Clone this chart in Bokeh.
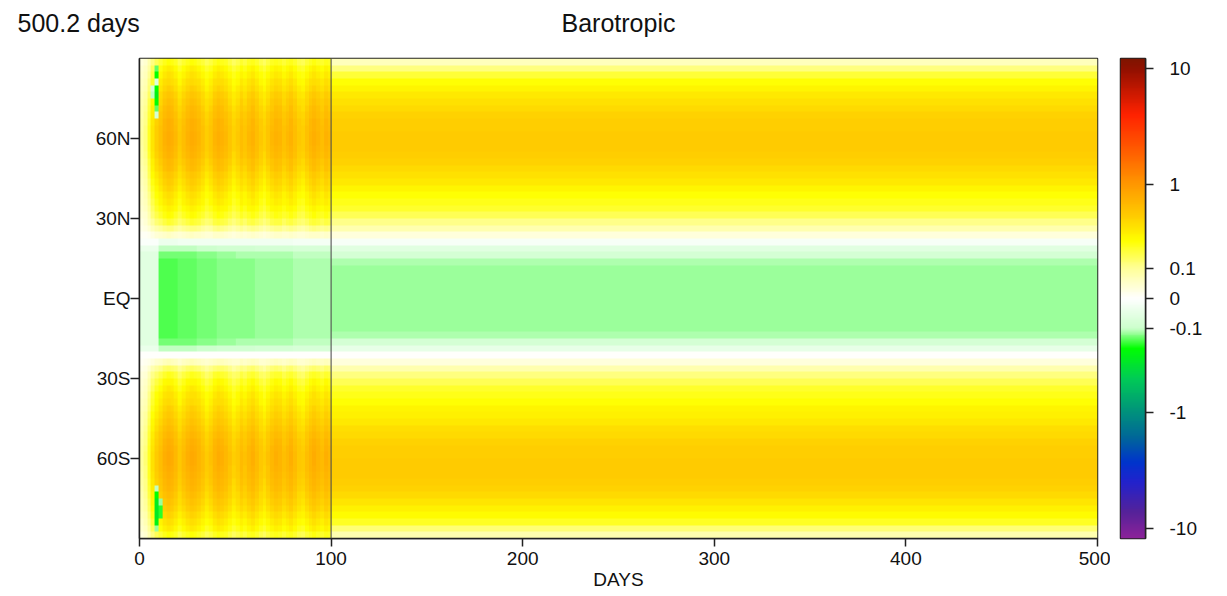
import numpy as np
from bokeh.plotting import figure
from bokeh.layouts import row, column
from bokeh.models import LinearColorMapper, FixedTicker, Span
from bokeh.core.properties import value
from bokeh.embed import file_html
from bokeh.resources import INLINE

# ---------------- data ----------------
title_text = "Barotropic"
time_text = "500.2 days"
x_label = "DAYS"
x_ticks = [0, 100, 200, 300, 400, 500]
lat_ticks = [-60, -30, 0, 30, 60]
lat_tick_labels = ["60S", "30S", "EQ", "30N", "60N"]
cbar_tick_values = [-10, -1, -0.1, 0, 0.1, 1, 10]
cbar_tick_labels = ["-10", "-1", "-0.1", "0", "0.1", "1", "10"]
spinup_end_day = 100
days_end = 500

# latitude cells of 2.5 degrees, south to north
lats = [-88.75 + 2.5 * k for k in range(72)]

# early (spin-up) period, days 0-100: mean latitude profile and 2-day streak factors
early_profile = [0.20, 0.27, 0.32, 0.37, 0.42, 0.46, 0.50, 0.54, 0.57, 0.60,
                 0.62, 0.63, 0.63, 0.61, 0.58, 0.55, 0.50, 0.46, 0.42, 0.38,
                 0.34, 0.31, 0.27, 0.23, 0.18, 0.12, 0.05, 0.00, -0.08, -0.11,
                 -0.12, -0.12, -0.12, -0.12, -0.12, -0.12,
                 -0.12, -0.12, -0.12, -0.12, -0.12, -0.12, -0.11, -0.08, -0.02, 0.04,
                 0.10, 0.16, 0.21, 0.25, 0.29, 0.32, 0.36, 0.40, 0.44, 0.49,
                 0.53, 0.57, 0.60, 0.61, 0.61, 0.60, 0.58, 0.55, 0.51, 0.47,
                 0.43, 0.38, 0.34, 0.30, 0.26, 0.20]
early_days = list(range(0, 100, 2))
streak = [0.15, 0.2, 0.35, 0.6, 0.8, 0.95, 1.15, 1.25, 1.2, 1.05,
          0.85, 1.0, 1.15, 1.25, 1.2, 1.1, 0.95, 0.8, 0.9, 1.1,
          1.2, 1.15, 1.05, 0.9, 0.75, 0.85, 1.0, 0.9, 1.05, 1.15,
          1.0, 0.85, 0.75, 0.9, 1.05, 1.15, 1.1, 0.95, 1.05, 1.15,
          1.0, 0.85, 0.8, 0.95, 1.1, 1.2, 1.1, 1.0, 1.15, 1.05]
green_fade = [0.45, 1.3, 1.25, 1.2, 1.1, 1.05, 1.0, 1.0, 0.95, 0.95]  # per 10 days
# green patches near the poles around day 6-10
blob_day = [8, 8, 8, 8, 8, 8, 8, 8, 6, 6,
            8, 8, 8, 8, 8, 8, 8, 10, 10, 10]
blob_lat = [86.25, 83.75, 81.25, 78.75, 76.25, 73.75, 71.25, 68.75, 78.75, 76.25,
            -71.25, -73.75, -76.25, -78.75, -81.25, -83.75, -86.25, -76.25, -78.75, -81.25]
blob_val = [-0.15, -0.2, -0.06, -0.2, -0.25, -0.22, -0.15, -0.08, -0.08, -0.1,
            -0.1, -0.2, -0.28, -0.3, -0.3, -0.25, -0.12, -0.12, -0.18, -0.18]

# steady period (day 100-500) latitude profile
steady_profile = [0.07, 0.13, 0.21, 0.27, 0.32, 0.37, 0.41, 0.45, 0.48, 0.50,
                  0.50, 0.50, 0.49, 0.47, 0.45, 0.42, 0.39, 0.35, 0.32, 0.29,
                  0.26, 0.23, 0.20, 0.16, 0.12, 0.07, 0.03, 0.00, -0.04, -0.08,
                  -0.11, -0.12, -0.12, -0.12, -0.12, -0.12,
                  -0.12, -0.12, -0.12, -0.12, -0.12, -0.11, -0.08, -0.05, -0.01, 0.03,
                  0.07, 0.11, 0.16, 0.20, 0.23, 0.26, 0.30, 0.34, 0.38, 0.42,
                  0.45, 0.48, 0.50, 0.50, 0.50, 0.49, 0.48, 0.45, 0.42, 0.38,
                  0.34, 0.30, 0.25, 0.19, 0.12, 0.06]

# ---------------- colour scale ----------------
SCALE_A = 0.13
SCALE_C = 52.8
U_MAX = 240.0


def to_u(v):
    v = np.asarray(v, dtype=float)
    return SCALE_C * np.sign(v) * np.log1p(np.abs(v) / SCALE_A)


stops_u = [-240, -215, -185, -165, -140, -110, -80, -50, -30, 0, 30, 58, 83, 114, 143, 185, 229, 240]
stops_c = ["#8a2299", "#552299", "#2222cc", "#0033cc", "#006699", "#009977", "#00cc55", "#00ff00",
           "#ccffcc", "#ffffff", "#ffff99", "#ffff00", "#ffcc00", "#ff9900", "#ff6600", "#ff2200",
           "#951000", "#7f1500"]


def _rgb(h):
    return [int(h[i:i + 2], 16) for i in (1, 3, 5)]


rgb = np.array([_rgb(c) for c in stops_c], dtype=float)
pu = np.linspace(-U_MAX, U_MAX, 256)
palette = []
for u in pu:
    r = np.interp(u, stops_u, rgb[:, 0])
    g = np.interp(u, stops_u, rgb[:, 1])
    b = np.interp(u, stops_u, rgb[:, 2])
    palette.append("#%02x%02x%02x" % (int(round(r)), int(round(g)), int(round(b))))

mapper = LinearColorMapper(palette=palette, low=-U_MAX, high=U_MAX)

# ---------------- build fields ----------------
early = np.zeros((len(lats), len(early_days)))
for i, base in enumerate(early_profile):
    for j, d in enumerate(early_days):
        if base > 0:
            early[i, j] = base * streak[j]
        else:
            early[i, j] = base * green_fade[d // 10]
for d, la, v in zip(blob_day, blob_lat, blob_val):
    early[lats.index(la), early_days.index(d)] = v

steady = np.array(steady_profile, dtype=float).reshape(-1, 1)

FONT = "Liberation Sans"
INK = "#111111"

# ---------------- header (titles) ----------------
hdr = figure(width=1227, height=56, x_range=(0, 1227), y_range=(0, 56),
             output_backend="svg", toolbar_location=None,
             x_axis_location=None, y_axis_location=None,
             min_border_left=0, min_border_right=0, min_border_top=0, min_border_bottom=0)
hdr.outline_line_color = None
hdr.grid.visible = False
hdr.text(x=[17], y=[34], text=[time_text], text_align="left", text_baseline="middle",
         text_font=value(FONT), text_font_size="25px", text_color=INK)
hdr.text(x=[618], y=[34], text=[title_text], text_align="center", text_baseline="middle",
         text_font=value(FONT), text_font_size="25px", text_color=INK)

# ---------------- main figure ----------------
p = figure(width=1110, height=540, x_range=(0, days_end), y_range=(-90, 90),
           output_backend="svg", toolbar_location=None,
           min_border_left=139, min_border_right=13, min_border_top=2, min_border_bottom=58)
p.image(image=[to_u(early)], x=0, y=-90, dw=spinup_end_day, dh=180, color_mapper=mapper)
p.image(image=[to_u(steady)], x=spinup_end_day, y=-90, dw=days_end - spinup_end_day, dh=180,
        color_mapper=mapper)
p.add_layout(Span(location=spinup_end_day, dimension="height", line_color="#444444", line_width=1))

p.grid.visible = False
p.outline_line_color = "#222222"
p.outline_line_width = 1.5

p.xaxis.ticker = FixedTicker(ticks=x_ticks)
p.xaxis.minor_tick_line_color = None
p.xaxis.major_tick_out = 8
p.xaxis.major_tick_in = 0
p.xaxis.major_label_standoff = 5
p.xaxis.axis_label = x_label
p.xaxis.axis_label_standoff = 1
p.xaxis.axis_label_text_font_style = "normal"

p.yaxis.ticker = FixedTicker(ticks=lat_ticks)
p.yaxis.major_label_overrides = {t: l for t, l in zip(lat_ticks, lat_tick_labels)}
p.yaxis.minor_tick_line_color = None
p.yaxis.major_tick_out = 9
p.yaxis.major_tick_in = 0
p.yaxis.major_label_standoff = 0

for ax in (p.xaxis, p.yaxis):
    ax.axis_line_color = "#222222"
    ax.axis_line_width = 1.5
    ax.major_tick_line_color = "#222222"
    ax.major_tick_line_width = 1.5
    ax.major_label_text_font = FONT
    ax.major_label_text_font_size = "19px"
    ax.major_label_text_color = INK
    ax.axis_label_text_font = FONT
    ax.axis_label_text_font_size = "19px"
    ax.axis_label_text_color = INK

# ---------------- colour bar figure ----------------
cb_ticks = [round(float(t), 4) for t in to_u(cbar_tick_values)]
cf = figure(width=117, height=540, x_range=(0, 1), y_range=(-U_MAX, U_MAX),
            output_backend="svg", toolbar_location=None,
            x_axis_location=None, y_axis_location="right",
            min_border_left=10, min_border_right=82, min_border_top=2, min_border_bottom=58)
ramp = np.linspace(-U_MAX, U_MAX, 480).reshape(-1, 1)
cf.image(image=[ramp], x=0, y=-U_MAX, dw=1, dh=2 * U_MAX, color_mapper=mapper)
cf.grid.visible = False
cf.outline_line_color = "#222222"
cf.outline_line_width = 1.5
cf.yaxis.ticker = FixedTicker(ticks=cb_ticks)
cf.yaxis.major_label_overrides = {t: l for t, l in zip(cb_ticks, cbar_tick_labels)}
cf.yaxis.minor_tick_line_color = None
cf.yaxis.major_tick_out = 8
cf.yaxis.major_tick_in = 0
cf.yaxis.major_label_standoff = 16
cf.yaxis.axis_line_color = "#222222"
cf.yaxis.axis_line_width = 1.5
cf.yaxis.major_tick_line_color = "#222222"
cf.yaxis.major_tick_line_width = 1.5
cf.yaxis.major_label_text_font = FONT
cf.yaxis.major_label_text_font_size = "19px"
cf.yaxis.major_label_text_color = INK

layout = column(hdr, row(p, cf, spacing=0), spacing=0)
open("out.html", "w").write(file_html(layout, INLINE))
